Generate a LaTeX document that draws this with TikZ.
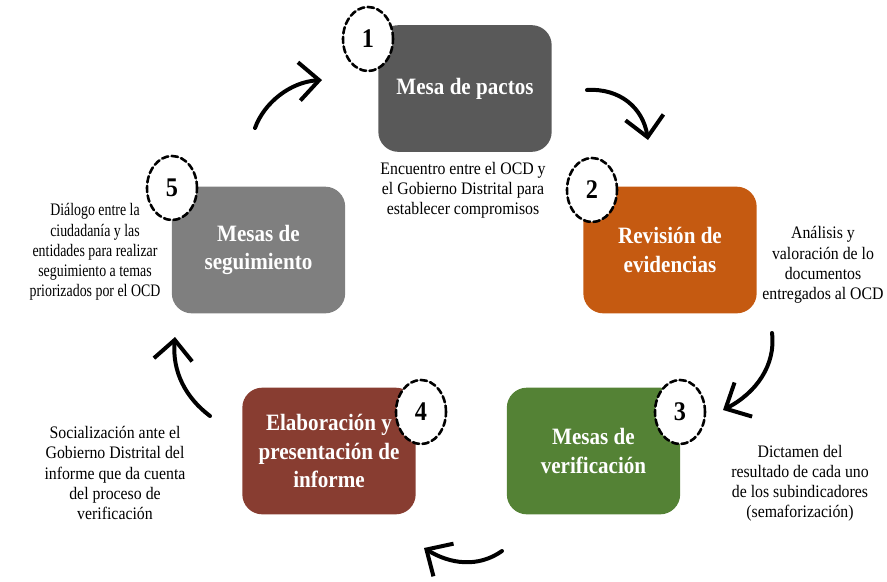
\documentclass[tikz,border=0pt]{standalone}
\usepackage{fontspec}
\setmainfont{Liberation Serif}[FakeStretch=0.9]
\newfontfamily\angosta{Liberation Serif}[FakeStretch=0.79]
\usetikzlibrary{arrows.meta,shapes.geometric}
\definecolor{pactos}{HTML}{595959}
\definecolor{revision}{HTML}{C55A11}
\definecolor{verifica}{HTML}{548235}
\definecolor{informe}{HTML}{883D31}
\definecolor{seguim}{HTML}{7F7F7F}
\tikzset{
  etapa/.style={rounded corners=0.6cm, minimum width=5.2cm, minimum height=3.8cm,
    align=center, text=white, font=\fontsize{20}{24}\selectfont\bfseries},
  numero/.style={ellipse, draw, fill=white, line width=2.2pt, dash pattern=on 5.5pt off 2.8pt,
    minimum width=1.5cm, minimum height=1.92cm, inner sep=0pt,
    font=\fontsize{23}{23}\selectfont\bfseries},
  nota/.style={align=center, font=\fontsize{15}{17.2}\selectfont},
  flecha/.style={line width=3.4pt, -{Straight Barb[length=0.6cm, width=1.15cm]}}
}
\begin{document}
\begin{tikzpicture}[x=0.03cm, y=-0.03cm, line join=round, line cap=round]
	\useasboundingbox (0,0) rectangle (887,581);
	\path
	(465,88.5) node[etapa, fill=pactos] (B1) {Mesa de pactos}
	(670,250) node[etapa, fill=revision] (B2) {Revisión de\\evidencias}
	(593.5,451) node[etapa, fill=verifica] (B3) {Mesas de\\verificación}
	(329,451) node[etapa, fill=informe] (B4) {Elaboración y\\presentación de\\informe}
	(258.5,250) node[etapa, fill=seguim] (B5) {Mesas de\\seguimiento}
	;
	\foreach \n/\p in {1/{(368,39)},2/{(592,190)},3/{(680,412)},4/{(421,412)},5/{(172,188)}}
		{\node[numero] (N\n) at \p {\n};}
	\node[nota] (T1) at (463,190) {Encuentro entre el OCD y\\el Gobierno Distrital para\\establecer compromisos};
	\node[nota] (T2) at (823,265) {Análisis y\\valoración de lo\\documentos\\entregados al OCD};
	\node[nota] (T3) at (800,483) {Dictamen del\\resultado de cada uno\\de los subindicadores\\(semaforización)};
	\node[nota] (T4) at (115,473) {Socialización ante el\\Gobierno Distrital del\\informe que da cuenta\\del proceso de\\verificación};
	\node[nota, font=\fontsize{15}{17.2}\angosta] (T5) at (95,252) {Diálogo entre la\\ciudadanía y las\\entidades para realizar\\seguimiento a temas\\priorizados por el OCD};
	% extremos de las flechas
	\path
	(255,128) coordinate (a1) (322,80) coordinate (a2)
	(587,90) coordinate (b1) (648,140) coordinate (b2)
	(772,333) coordinate (c1) (723,410) coordinate (c2)
	(502,551) coordinate (d1) (424,548) coordinate (d2)
	(210,416) coordinate (e1) (175,337) coordinate (e2)
	;
	\draw[flecha] (a1) .. controls (264,103) and (290,82) .. (a2);
	\draw[flecha] (b1) .. controls (620,88) and (643,108) .. (b2);
	\draw[flecha] (c1) .. controls (776,365) and (756,393) .. (c2);
	\draw[flecha] (d1) .. controls (478,568) and (450,564) .. (d2);
	\draw[flecha] (e1) .. controls (186,398) and (172,372) .. (e2);
\end{tikzpicture}
\end{document}
